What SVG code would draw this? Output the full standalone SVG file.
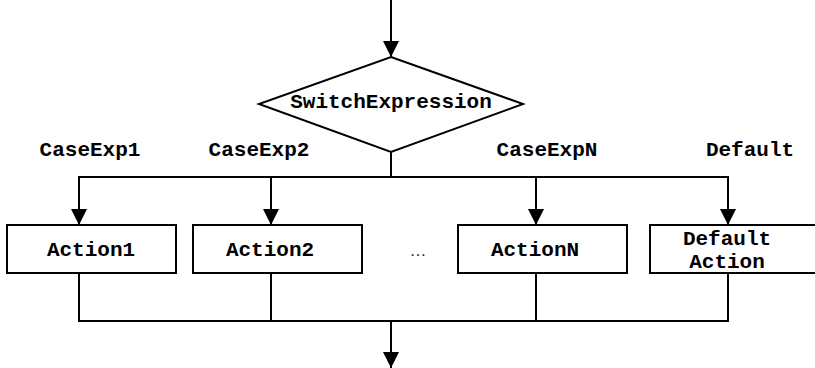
<svg xmlns="http://www.w3.org/2000/svg" width="815" height="368" viewBox="0 0 815 368">
<style>
.shape{fill:#fff;stroke:#000;stroke-width:2}
.line{fill:none;stroke:#000;stroke-width:2}
.t{font-family:"Liberation Mono","Courier New",monospace;font-weight:bold;font-size:21px;fill:#000;text-anchor:middle}
</style>
<defs>
<marker id="arr" viewBox="0 0 16 16" markerWidth="16" markerHeight="16" refX="16" refY="8" orient="auto" markerUnits="userSpaceOnUse">
<path d="M0,0 L16,8 L0,16 Z" fill="#000"/>
</marker>
</defs>
<rect width="815" height="368" fill="#fff"/>
<g id="connectors">
<line class="line" x1="391" y1="0" x2="391" y2="57" marker-end="url(#arr)"/>
<line class="line" x1="391" y1="152" x2="391" y2="177"/>
<line class="line" x1="78" y1="177" x2="729" y2="177"/>
<line class="line" x1="79" y1="177" x2="79" y2="225" marker-end="url(#arr)"/>
<line class="line" x1="271" y1="177" x2="271" y2="225" marker-end="url(#arr)"/>
<line class="line" x1="536" y1="177" x2="536" y2="225" marker-end="url(#arr)"/>
<line class="line" x1="728" y1="177" x2="728" y2="225" marker-end="url(#arr)"/>
<polyline class="line" points="79,273 79,321 728,321 728,273"/>
<line class="line" x1="271" y1="273" x2="271" y2="321"/>
<line class="line" x1="536" y1="273" x2="536" y2="321"/>
<line class="line" x1="391" y1="321" x2="391" y2="368" marker-end="url(#arr)"/>
<text class="t" x="90" y="156">CaseExp1</text>
<text class="t" x="259" y="156">CaseExp2</text>
<text class="t" x="547" y="156">CaseExpN</text>
<text class="t" x="750" y="156">Default</text>
</g>
<g id="switch">
<polygon class="shape" points="391,57 523,104 391,152 259,104"/>
<text class="t" x="391" y="108">SwitchExpression</text>
</g>
<g id="action1">
<rect class="shape" x="7" y="225" width="169" height="48"/>
<text class="t" x="91" y="256">Action1</text>
</g>
<g id="action2">
<rect class="shape" x="193" y="225" width="169" height="48"/>
<text class="t" x="270" y="256">Action2</text>
</g>
<g id="ellipsis">
<text x="418" y="256" style="font-family:'Liberation Sans',Arial,sans-serif;font-size:17px;fill:#222;text-anchor:middle">…</text>
</g>
<g id="actionN">
<rect class="shape" x="458" y="225" width="169" height="48"/>
<text class="t" x="535" y="256">ActionN</text>
</g>
<g id="default">
<rect class="shape" x="650" y="225" width="169" height="48"/>
<text class="t" x="727" y="245">Default</text>
<text class="t" x="727" y="268">Action</text>
</g>
</svg>
